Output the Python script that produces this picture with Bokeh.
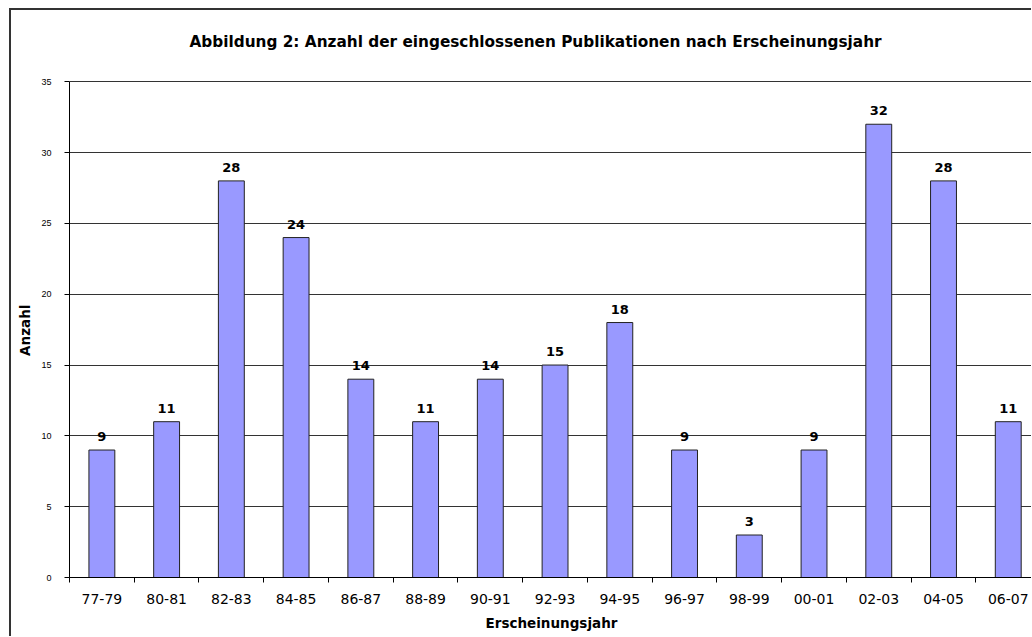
import numpy as np
from bokeh.plotting import figure
from bokeh.models import (ColumnDataSource, Range1d, LinearAxis, Label,
                          FixedTicker, CustomJSTickFormatter, LabelSet)
from bokeh.core.properties import value
from bokeh.embed import file_html
from bokeh.resources import INLINE

categories = ["77-79", "80-81", "82-83", "84-85", "86-87", "88-89", "90-91", "92-93",
              "94-95", "96-97", "98-99", "00-01", "02-03", "04-05", "06-07"]
counts = [9, 11, 28, 24, 14, 11, 14, 15, 18, 9, 3, 9, 32, 28, 11]
y_ticks = [0, 5, 10, 15, 20, 25, 30, 35]

title_text = "Abbildung 2: Anzahl der eingeschlossenen Publikationen nach Erscheinungsjahr"
x_title = "Erscheinungsjahr"
y_title = "Anzahl"

n_cat = len(categories)
centres = np.arange(n_cat) + 0.5          # category slot centres
bounds = list(range(n_cat + 1))           # category slot boundaries
visible_slots = 14.89                     # the reference is cropped at its right edge
y_max = y_ticks[-1]

# layout: the plot area extends above the 35-line so that the title can sit inside it
fig_h, top_border, bottom_border = 626, 2, 61
axis_px = 494                             # pixel height of the 0..35 axis
frame_px = fig_h - top_border - bottom_border
y_top = y_max * frame_px / axis_px

src = ColumnDataSource(dict(x=centres, cat=categories, n=counts,
                            lbl=[str(v) for v in counts]))

p = figure(x_range=Range1d(0, visible_slots), y_range=Range1d(0, y_top),
           width=1020, height=fig_h, output_backend="svg", toolbar_location=None,
           x_axis_location=None,
           min_border_left=58, min_border_right=0,
           min_border_top=top_border, min_border_bottom=bottom_border)
p.title_location = None

# outer chart border (left/top edges visible; right/bottom cropped as in reference)
p.styles = {"margin-left": "9px", "margin-top": "8px",
            "border-left": "2px solid #333333", "border-top": "2px solid #333333",
            "border-right": "0px none", "border-bottom": "0px none",
            "box-sizing": "content-box"}

p.outline_line_color = None
p.background_fill_color = "white"
p.border_fill_color = "white"

# chart title
title = Label(x=0, y=y_max, x_offset=120, y_offset=40, text=title_text,
              text_align="left", text_baseline="alphabetic",
              text_font="DejaVu Sans", text_font_style="bold",
              text_font_size="15.3px", text_color="black")
p.add_layout(title)

# bars
p.vbar(x="x", top="n", width=0.4, source=src, fill_color="#9999FF",
       line_color="#222222", line_width=1)

labels = LabelSet(x="x", y="n", text="lbl", source=src, text_align="center",
                  text_baseline="alphabetic", y_offset=9,
                  text_font=value("DejaVu Sans"), text_font_style="bold",
                  text_font_size="13px", text_color="black")
p.add_layout(labels)

# y axis (line limited to 0..35)
p.yaxis.bounds = (0, y_max)
p.yaxis.ticker = FixedTicker(ticks=y_ticks)
p.yaxis.major_tick_out = 5
p.yaxis.major_tick_in = 0
p.yaxis.minor_tick_out = 0
p.yaxis.minor_tick_in = 0
p.yaxis.major_label_standoff = 13
p.yaxis.major_label_text_font = "Liberation Sans"
p.yaxis.major_label_text_font_size = "9px"
p.yaxis.major_label_text_color = "black"
p.yaxis.axis_line_color = "black"
p.yaxis.major_tick_line_color = "black"
# the axis label is centred on the whole plot area; trailing no-break spaces
# move the visible word down to the middle of the 0..35 axis
p.yaxis.axis_label = y_title + "\u00a0" * 15
p.yaxis.axis_label_standoff = 5
p.yaxis.axis_label_text_font = "DejaVu Sans"
p.yaxis.axis_label_text_font_style = "bold"
p.yaxis.axis_label_text_font_size = "13.5px"
p.yaxis.axis_label_text_color = "black"

p.xgrid.visible = False
p.ygrid.ticker = FixedTicker(ticks=y_ticks)
p.ygrid.grid_line_color = "#333333"
p.ygrid.grid_line_width = 1

# x axis: labels at category centres, tick marks at category boundaries
xa = LinearAxis(
    ticker=FixedTicker(ticks=list(centres), minor_ticks=bounds),
    formatter=CustomJSTickFormatter(args=dict(labels=categories),
                                    code="return labels[Math.floor(tick)];"),
)
xa.major_tick_out = 0
xa.major_tick_in = 0
xa.minor_tick_out = 5
xa.minor_tick_in = 0
xa.minor_tick_line_color = "black"
xa.axis_line_color = "black"
xa.major_label_standoff = 11
xa.major_label_text_font = "DejaVu Sans"
xa.major_label_text_font_size = "14px"
xa.major_label_text_color = "black"
xa.axis_label = x_title
xa.axis_label_standoff = 8
xa.axis_label_text_font = "DejaVu Sans"
xa.axis_label_text_font_style = "bold"
xa.axis_label_text_font_size = "13.5px"
xa.axis_label_text_color = "black"
p.add_layout(xa, "below")

open("out.html", "w").write(file_html(p, INLINE))
